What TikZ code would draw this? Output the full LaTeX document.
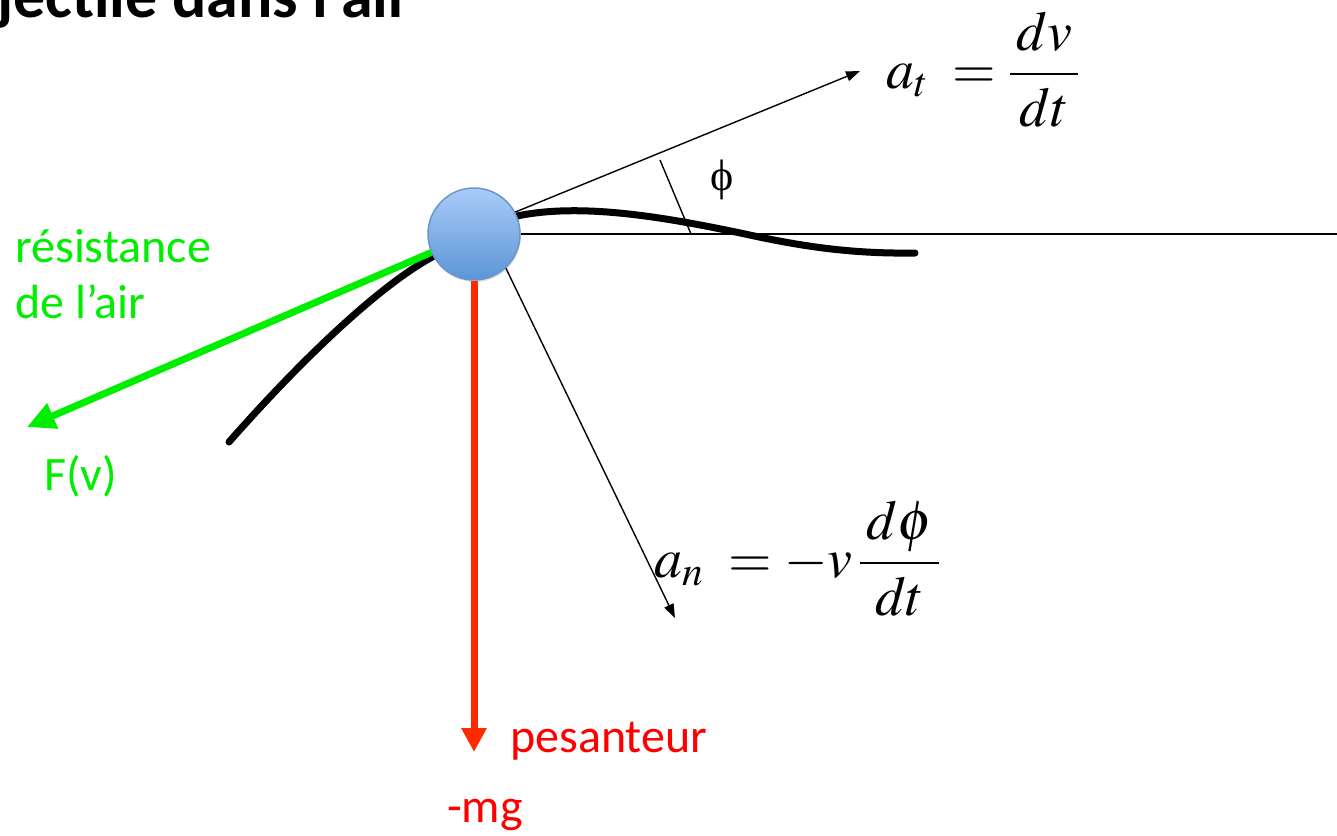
\documentclass[tikz,border=0pt]{standalone}
\usepackage{mathptmx}
\usepackage[no-math]{fontspec}
\renewcommand{\rmdefault}{lmr}
\newfontfamily\calibri{Carlito}
\newfontfamily\greekserif{Liberation Serif}
\usetikzlibrary{positioning,arrows.meta,backgrounds,shadows}
\definecolor{airgreen}{HTML}{00EE00}
\definecolor{gravred}{HTML}{FF2A00}
\definecolor{labelred}{HTML}{FF0000}
\definecolor{ballhi}{HTML}{AACBF8}
\definecolor{balllo}{HTML}{5B95D6}
\definecolor{ballrim}{HTML}{6A96CA}

\begin{document}
\begin{tikzpicture}[x=1pt,y=-1pt,
  lbl/.style={font=\calibri\fontsize{48}{56}\selectfont,inner sep=0pt,anchor=base west},
  eqn/.style={font=\fontsize{56}{60}\selectfont,inner sep=0pt,anchor=base west},
  thinvec/.style={line width=1.4pt,-{Triangle[length=14pt,width=10pt]}},
  force/.style={line width=7pt}]
  \useasboundingbox (0,0) rectangle (1337,835);
  \node[font=\calibri\bfseries\fontsize{64}{70}\selectfont,inner sep=0pt,anchor=base west]
    (title) at (-3,17) {jectile dans l’air};
  % the projectile
  \node[circle,minimum size=92pt,inner sep=0pt,draw=ballrim,line width=1.5pt,
        top color=ballhi,bottom color=balllo,
        drop shadow={opacity=0.25,shadow xshift=1pt,shadow yshift=-2pt}] (ball) at (474,234) {};
  \coordinate (attip) at (860,71);
  \coordinate (antip) at (675,618);
  \coordinate (horizon) at (1337,234);
  \coordinate (phitop) at (660,160);
  \coordinate (phibot) at (691,234);
  \coordinate (ftip) at (27,427);
  \coordinate (gtip) at (474,752);
  % trajectory, passing under the ball
  \begin{scope}[on background layer]
    \draw[line width=7pt,line cap=round] (229,442) .. controls (310,350) and (385,282) .. (434,256)
      .. controls (470,237) and (490,222) .. (517,216)
      .. controls (580,203) and (660,216) .. (745,234)
      .. controls (800,246) and (850,254) .. (915,253);
  \end{scope}
  % tangent, normal and the angle phi
  \draw[line width=1.4pt] (ball.east) -- (horizon);
  \draw[thinvec] (ball.28) -- (attip);
  \draw[thinvec] (ball.-47) -- (antip);
  \draw[line width=1.4pt] (phitop) -- (phibot);
  \node[font=\greekserif\fontsize{44}{44}\selectfont,inner sep=0pt] (philbl) at (722,180) {ϕ};
  % forces
  \draw[force,airgreen,-{Triangle[length=28pt,width=26pt]}] (ball) -- (ftip);
  \draw[force,gravred,-{Triangle[length=24pt,width=24pt]}] (ball.south) -- (gtip);
  \node[lbl,text=airgreen] (resist) at (15,262) {résistance};
  \node[lbl,text=airgreen] (airword) at (15,318) {de l’air};
  \node[lbl,text=airgreen] (fv) at (44,490) {F(v)};
  \node[lbl,text=labelred] (weight) at (510,752) {pesanteur};
  \node[lbl,text=labelred] (mg) at (447,822) {-mg};
  % accelerations
  \node[eqn] (ateq) at (886,88) {$a_t \;= \displaystyle\frac{\,dv\,}{\,dt\,}$};
  \node[eqn] (aneq) at (654,577) {$a_n \;= -v\,\displaystyle\frac{\,d\phi\,}{\,dt\,}$};
\end{tikzpicture}
\end{document}
